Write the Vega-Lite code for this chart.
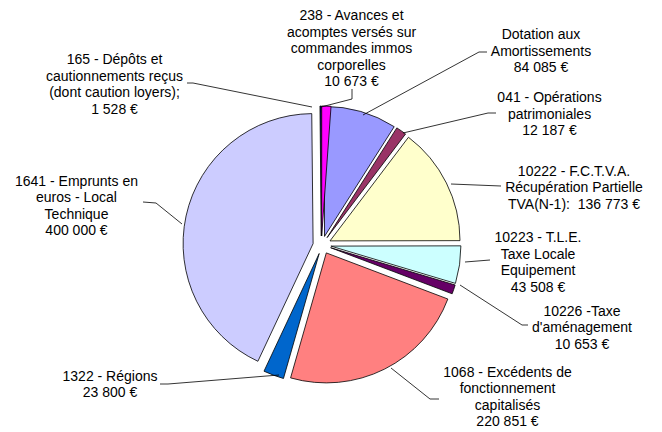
{
  "$schema": "https://vega.github.io/schema/vega-lite/v6.json",
  "width": 662,
  "height": 432,
  "padding": 0,
  "autosize": {"type": "fit", "contains": "padding"},
  "background": "white",
  "config": {
    "view": {"stroke": null},
    "text": {"font": "Liberation Sans", "fontSize": 14, "lineHeight": 16.6, "lineBreak": "\n", "align": "center", "baseline": "middle", "color": "#000000"},
    "arc": {"stroke": "#000000", "strokeWidth": 0.8, "radius": 130},
    "rule": {"stroke": "#000000", "strokeWidth": 0.8}
  },
  "data": {
    "values": [
      {"code": "Dotation", "label": "Dotation aux\nAmortissements\n84 085 €", "amount": 84085},
      {"code": "041", "label": "041 - Opérations\npatrimoniales\n12 187 €", "amount": 12187},
      {"code": "10222", "label": "10222 - F.C.T.V.A.\nRécupération Partielle\nTVA(N-1): \u00a0136 773 €", "amount": 136773},
      {"code": "10223", "label": "10223 - T.L.E.\nTaxe Locale\nEquipement\n43 508 €", "amount": 43508},
      {"code": "10226", "label": "10226 -Taxe\nd'aménagement\n10 653 €", "amount": 10653},
      {"code": "1068", "label": "1068 - Excédents de\nfonctionnement\ncapitalisés\n220 851 €", "amount": 220851},
      {"code": "1322", "label": "1322 - Régions\n23 800 €", "amount": 23800},
      {"code": "1641", "label": "1641 - Emprunts en\neuros - Local\nTechnique\n400 000 €", "amount": 400000},
      {"code": "165", "label": "165 - Dépôts et\ncautionnements reçus\n(dont caution loyers);\n1 528 €", "amount": 1528},
      {"code": "238", "label": "238 - Avances et\nacomptes versés sur\ncommandes immos\ncorporelles\n10 673 €", "amount": 10673}
    ]
  },
  "transform": [{"stack": "amount", "groupby": [], "as": ["a0", "a1"]}],
  "layer": [
    {
      "transform": [{"filter": "datum.code === 'Dotation'"}],
      "layer": [
        {"mark": {"type": "arc", "fill": "#9999FF"}, "encoding": {"x": {"value": 324.5}, "y": {"value": 236.4}, "theta": {"field": "a0", "type": "quantitative", "scale": {"nice": false, "zero": true}}, "theta2": {"field": "a1"}}},
        {"mark": "text", "encoding": {"x": {"value": 541}, "y": {"value": 35}, "text": {"field": "label"}}},
        {"mark": "rule", "encoding": {"x": {"value": 479}, "y": {"value": 52}, "x2": {"value": 487}, "y2": {"value": 52}}},
        {"mark": "rule", "encoding": {"x": {"value": 479}, "y": {"value": 52}, "x2": {"value": 363}, "y2": {"value": 115}}}
      ]
    },
    {
      "transform": [{"filter": "datum.code === '041'"}],
      "layer": [
        {"mark": {"type": "arc", "fill": "#993366"}, "encoding": {"x": {"value": 327.1}, "y": {"value": 237.6}, "theta": {"field": "a0", "type": "quantitative"}, "theta2": {"field": "a1"}}},
        {"mark": "text", "encoding": {"x": {"value": 549.5}, "y": {"value": 98.3}, "text": {"field": "label"}}},
        {"mark": "rule", "encoding": {"x": {"value": 488}, "y": {"value": 113}, "x2": {"value": 496}, "y2": {"value": 113}}},
        {"mark": "rule", "encoding": {"x": {"value": 488}, "y": {"value": 113}, "x2": {"value": 403}, "y2": {"value": 133}}}
      ]
    },
    {
      "transform": [{"filter": "datum.code === '10222'"}],
      "layer": [
        {"mark": {"type": "arc", "fill": "#FFFFCC"}, "encoding": {"x": {"value": 330.0}, "y": {"value": 240.9}, "theta": {"field": "a0", "type": "quantitative"}, "theta2": {"field": "a1"}}},
        {"mark": "text", "encoding": {"x": {"value": 574}, "y": {"value": 171.5}, "text": {"field": "label"}}},
        {"mark": "rule", "encoding": {"x": {"value": 451}, "y": {"value": 184}, "x2": {"value": 501}, "y2": {"value": 186}}}
      ]
    },
    {
      "transform": [{"filter": "datum.code === '10223'"}],
      "layer": [
        {"mark": {"type": "arc", "fill": "#CCFFFF"}, "encoding": {"x": {"value": 330.9}, "y": {"value": 246.1}, "theta": {"field": "a0", "type": "quantitative"}, "theta2": {"field": "a1"}}},
        {"mark": "text", "encoding": {"x": {"value": 538}, "y": {"value": 238}, "text": {"field": "label"}}},
        {"mark": "rule", "encoding": {"x": {"value": 465}, "y": {"value": 262}, "x2": {"value": 490}, "y2": {"value": 260}}}
      ]
    },
    {
      "transform": [{"filter": "datum.code === '10226'"}],
      "layer": [
        {"mark": {"type": "arc", "fill": "#660066"}, "encoding": {"x": {"value": 330.6}, "y": {"value": 247.7}, "theta": {"field": "a0", "type": "quantitative"}, "theta2": {"field": "a1"}}},
        {"mark": "text", "encoding": {"x": {"value": 582}, "y": {"value": 311.5}, "text": {"field": "label"}}},
        {"mark": "rule", "encoding": {"x": {"value": 460}, "y": {"value": 285}, "x2": {"value": 522}, "y2": {"value": 325}}},
        {"mark": "rule", "encoding": {"x": {"value": 522}, "y": {"value": 325}, "x2": {"value": 528}, "y2": {"value": 325}}}
      ]
    },
    {
      "transform": [{"filter": "datum.code === '1068'"}],
      "layer": [
        {"mark": {"type": "arc", "fill": "#FF8080"}, "encoding": {"x": {"value": 326.3}, "y": {"value": 252.9}, "theta": {"field": "a0", "type": "quantitative"}, "theta2": {"field": "a1"}}},
        {"mark": "text", "encoding": {"x": {"value": 507.5}, "y": {"value": 372.7}, "text": {"field": "label"}}},
        {"mark": "rule", "encoding": {"x": {"value": 391}, "y": {"value": 368}, "x2": {"value": 430}, "y2": {"value": 399}}},
        {"mark": "rule", "encoding": {"x": {"value": 430}, "y": {"value": 399}, "x2": {"value": 439}, "y2": {"value": 399}}}
      ]
    },
    {
      "transform": [{"filter": "datum.code === '1322'"}],
      "layer": [
        {"mark": {"type": "arc", "fill": "#0066CC"}, "encoding": {"x": {"value": 319.2}, "y": {"value": 253.5}, "theta": {"field": "a0", "type": "quantitative"}, "theta2": {"field": "a1"}}},
        {"mark": "text", "encoding": {"x": {"value": 110}, "y": {"value": 376.7}, "text": {"field": "label"}}},
        {"mark": "rule", "encoding": {"x": {"value": 279}, "y": {"value": 375}, "x2": {"value": 168}, "y2": {"value": 384}}},
        {"mark": "rule", "encoding": {"x": {"value": 168}, "y": {"value": 384}, "x2": {"value": 160}, "y2": {"value": 384}}}
      ]
    },
    {
      "transform": [{"filter": "datum.code === '1641'"}],
      "layer": [
        {"mark": {"type": "arc", "fill": "#CCCCFF"}, "encoding": {"x": {"value": 313.1}, "y": {"value": 243.6}, "theta": {"field": "a0", "type": "quantitative"}, "theta2": {"field": "a1"}}},
        {"mark": "text", "encoding": {"x": {"value": 76.5}, "y": {"value": 181.7}, "text": {"field": "label"}}},
        {"mark": "rule", "encoding": {"x": {"value": 143}, "y": {"value": 202}, "x2": {"value": 156}, "y2": {"value": 203}}},
        {"mark": "rule", "encoding": {"x": {"value": 156}, "y": {"value": 203}, "x2": {"value": 182}, "y2": {"value": 224}}}
      ]
    },
    {
      "transform": [{"filter": "datum.code === '165'"}],
      "layer": [
        {"mark": {"type": "arc", "fill": "#000080"}, "encoding": {"x": {"value": 321.3}, "y": {"value": 236.0}, "theta": {"field": "a0", "type": "quantitative"}, "theta2": {"field": "a1"}}},
        {"mark": "text", "encoding": {"x": {"value": 114.5}, "y": {"value": 60}, "text": {"field": "label"}}},
        {"mark": "rule", "encoding": {"x": {"value": 187}, "y": {"value": 83}, "x2": {"value": 193}, "y2": {"value": 83}}},
        {"mark": "rule", "encoding": {"x": {"value": 193}, "y": {"value": 83}, "x2": {"value": 312}, "y2": {"value": 107}}}
      ]
    },
    {
      "transform": [{"filter": "datum.code === '238'"}],
      "layer": [
        {"mark": {"type": "arc", "fill": "#FF00FF"}, "encoding": {"x": {"value": 321.7}, "y": {"value": 236.0}, "theta": {"field": "a0", "type": "quantitative"}, "theta2": {"field": "a1"}}},
        {"mark": "text", "encoding": {"x": {"value": 351.5}, "y": {"value": 16}, "text": {"field": "label"}}},
        {"mark": "rule", "encoding": {"x": {"value": 352}, "y": {"value": 89}, "x2": {"value": 352}, "y2": {"value": 99}}},
        {"mark": "rule", "encoding": {"x": {"value": 352}, "y": {"value": 99}, "x2": {"value": 321}, "y2": {"value": 107}}}
      ]
    }
  ]
}
